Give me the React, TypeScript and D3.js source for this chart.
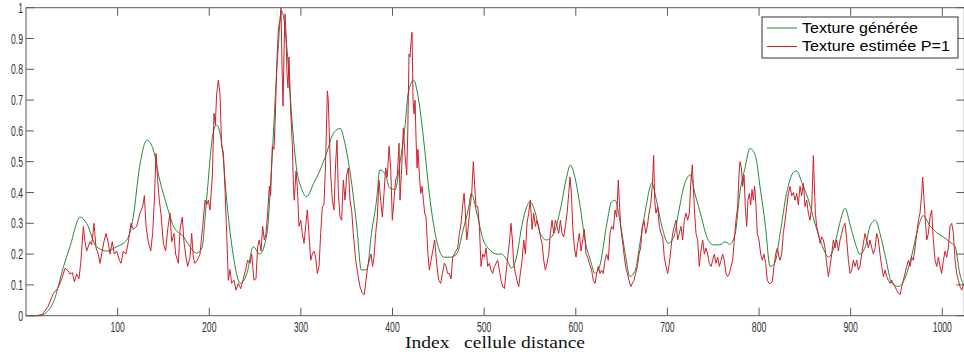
import React from "react";
import * as d3 from "d3";

// ---- data ----
const xTicks = [100, 200, 300, 400, 500, 600, 700, 800, 900, 1000];
const yTicks = [0, 0.1, 0.2, 0.3, 0.4, 0.5, 0.6, 0.7, 0.8, 0.9, 1];
const yTickLabels = ["0", "0.1", "0.2", "0.3", "0.4", "0.5", "0.6", "0.7", "0.8", "0.9", "1"];
const seriesNames = ["Texture générée", "Texture estimée P=1"];
const xLabel = "Index   cellule distance";

const generated: [number, number][] = [
  [0,0],[15,0],[22,0.01],[30,0.045],[41,0.16],[48,0.224],[59,0.32],[66,0.30],[77,0.224],[88,0.21],[99,0.224],[110,0.246],[117,0.32],[124,0.484],[132,0.57],[139,0.538],[146,0.44],[154,0.354],[161,0.29],[172,0.256],[179,0.224],[186,0.203],[192,0.22],[197,0.375],[204,0.59],[208,0.62],[214,0.55],[219,0.375],[226,0.2],[234,0.105],[241,0.137],[248,0.224],[255,0.2],[263,0.267],[268,0.484],[274,0.81],[279,0.99],[285,0.86],[290,0.646],[295,0.484],[301,0.41],[306,0.386],[314,0.43],[321,0.473],[328,0.527],[335,0.59],[343,0.608],[348,0.56],[354,0.46],[361,0.29],[366,0.148],[372,0.15],[377,0.267],[383,0.386],[386,0.473],[392,0.46],[397,0.414],[403,0.41],[408,0.495],[414,0.625],[417,0.72],[423,0.765],[428,0.71],[434,0.57],[441,0.375],[448,0.246],[456,0.19],[463,0.19],[470,0.2],[477,0.278],[483,0.35],[486,0.397],[492,0.333],[499,0.246],[506,0.214],[514,0.2],[519,0.2],[525,0.18],[530,0.154],[536,0.2],[541,0.29],[546,0.35],[550,0.37],[556,0.333],[561,0.267],[568,0.246],[576,0.267],[583,0.343],[590,0.45],[594,0.489],[599,0.45],[605,0.35],[610,0.246],[616,0.18],[621,0.137],[626,0.16],[634,0.30],[639,0.37],[643,0.375],[648,0.31],[654,0.2],[659,0.127],[665,0.148],[670,0.235],[676,0.343],[683,0.43],[688,0.375],[694,0.29],[701,0.235],[707,0.256],[712,0.333],[719,0.43],[725,0.457],[730,0.397],[736,0.333],[743,0.256],[750,0.23],[757,0.23],[763,0.24],[768,0.232],[774,0.267],[779,0.397],[785,0.484],[790,0.543],[796,0.52],[801,0.42],[807,0.29],[812,0.16],[817,0.17],[823,0.267],[830,0.397],[838,0.467],[841,0.47],[847,0.43],[854,0.375],[861,0.30],[868,0.235],[876,0.19],[883,0.235],[888,0.30],[894,0.349],[899,0.30],[905,0.235],[910,0.2],[916,0.224],[921,0.29],[927,0.31],[932,0.267],[938,0.19],[945,0.105],[952,0.095],[959,0.12],[967,0.2],[974,0.29],[979,0.325],[987,0.29],[994,0.27],[1001,0.256],[1008,0.24],[1014,0.224],[1019,0.137],[1024,0.095]
];

const estimated: [number, number][] = [
  [0,0],[12,0],[18,0.005],[24,0.03],[30,0.073],[35,0.09],[39,0.12],[42.6,0.154],[46.2,0.145],[48,0.135],[50.6,0.14],[52.8,0.11],[55.3,0.135],[57.8,0.12],[59.7,0.17],[62.6,0.29],[64.4,0.24],[66.2,0.21],[69.8,0.24],[71.7,0.23],[74.2,0.30],[76.4,0.22],[79,0.2],[80.8,0.17],[82.6,0.2],[85.1,0.24],[87.3,0.267],[89.9,0.235],[91.7,0.2],[94.2,0.24],[96.4,0.2],[99,0.21],[101.9,0.18],[103.7,0.17],[106.2,0.21],[109.1,0.2],[111.7,0.24],[114.6,0.30],[117.1,0.28],[120.8,0.29],[124.4,0.333],[127.3,0.354],[129.2,0.39],[131,0.29],[133.5,0.24],[136.1,0.21],[138.2,0.267],[140.1,0.375],[141.9,0.527],[143.7,0.44],[145.5,0.375],[147.3,0.33],[149.9,0.235],[152.4,0.21],[154.6,0.28],[157.2,0.333],[159,0.24],[161.5,0.267],[163.3,0.2],[166.3,0.17],[168.1,0.28],[170.6,0.32],[172.4,0.24],[174.6,0.19],[176.4,0.16],[179,0.19],[180.8,0.267],[182.6,0.19],[184.4,0.17],[187,0.18],[189.9,0.2],[192.8,0.29],[195.4,0.375],[197.2,0.36],[199,0.375],[200.8,0.343],[203.4,0.457],[205.2,0.657],[206.6,0.62],[208.1,0.72],[209.9,0.765],[211.7,0.72],[213.5,0.55],[215.4,0.53],[217.2,0.41],[219,0.267],[220.8,0.115],[222.6,0.15],[224.4,0.105],[227,0.115],[229.2,0.083],[231.7,0.105],[234.3,0.088],[237.2,0.12],[239.7,0.15],[241.9,0.18],[244.5,0.17],[246.3,0.2],[248.8,0.115],[251,0.12],[252.8,0.224],[254.6,0.246],[256.5,0.21],[258.3,0.29],[260.1,0.246],[261.9,0.267],[263.7,0.333],[265.6,0.42],[267,0.39],[268.8,0.55],[270.6,0.54],[272.1,0.645],[273.6,0.81],[275.4,0.93],[277.2,0.96],[278.3,1.0],[279.4,0.81],[280.5,0.68],[281.6,0.86],[282.7,0.98],[283.7,0.92],[284.8,0.79],[285.9,0.74],[287,0.84],[288.8,0.67],[290.7,0.55],[291.8,0.42],[292.8,0.375],[294.7,0.47],[296.1,0.42],[297.9,0.29],[299.8,0.31],[301.6,0.267],[303.4,0.235],[305.2,0.29],[307,0.343],[308.8,0.267],[310.7,0.18],[312.5,0.2],[314.3,0.21],[316.1,0.19],[317.9,0.137],[319.8,0.16],[321.6,0.267],[323.4,0.354],[325.2,0.36],[327,0.5],[328.9,0.73],[329.9,0.70],[331,0.59],[332.5,0.46],[334.3,0.375],[336.1,0.343],[338,0.50],[339.4,0.57],[340.9,0.397],[342.7,0.32],[344.5,0.31],[346.3,0.44],[348.1,0.375],[350,0.457],[351.8,0.48],[353.6,0.375],[355.4,0.343],[357.2,0.267],[359.8,0.18],[362,0.137],[364.5,0.094],[367.1,0.073],[369.2,0.068],[371,0.115],[372.9,0.16],[374.7,0.18],[376.5,0.2],[378.3,0.16],[379.8,0.19],[381.6,0.267],[383.4,0.32],[385.2,0.44],[387.1,0.375],[388.9,0.32],[390.7,0.397],[392.5,0.48],[394.3,0.45],[396.2,0.55],[398,0.48],[399.8,0.31],[401.6,0.375],[403.4,0.44],[405.3,0.457],[407.1,0.56],[408.2,0.375],[410,0.48],[411.8,0.61],[413.7,0.52],[415.5,0.457],[416.6,0.59],[418,0.85],[419.1,0.84],[420.2,0.89],[421.3,0.92],[422.4,0.70],[423.5,0.655],[424.6,0.70],[425.7,0.57],[426.8,0.48],[427.8,0.54],[429.3,0.457],[430.8,0.397],[432.2,0.42],[433.7,0.375],[435.1,0.333],[436.6,0.32],[438.4,0.21],[440.2,0.148],[442,0.18],[443.9,0.21],[446,0.246],[448.2,0.17],[450.4,0.115],[452.6,0.105],[454.4,0.137],[456.6,0.17],[458.4,0.16],[460.2,0.137],[462,0.137],[463.9,0.12],[465.7,0.19],[467.5,0.2],[469.3,0.21],[471.1,0.22],[473,0.267],[474.8,0.30],[476.6,0.36],[478.1,0.397],[479.5,0.333],[481,0.246],[482.8,0.29],[484.6,0.354],[486.4,0.397],[488.2,0.5],[489.7,0.42],[491.1,0.354],[493,0.354],[494.8,0.29],[496.6,0.16],[498.4,0.2],[500.2,0.19],[502.1,0.22],[503.9,0.16],[505.7,0.17],[507.5,0.148],[509.3,0.137],[511.2,0.16],[513,0.17],[514.8,0.18],[516.6,0.148],[518.4,0.115],[520.3,0.094],[522.1,0.088],[523.9,0.137],[525.7,0.19],[527.5,0.235],[529.3,0.30],[530.8,0.246],[532.3,0.17],[534.1,0.137],[535.9,0.115],[537.7,0.094],[539.5,0.137],[541.4,0.18],[543.2,0.246],[545,0.2],[546.8,0.30],[548.6,0.333],[550.4,0.375],[552.3,0.28],[554.1,0.333],[555.9,0.29],[557.7,0.31],[559.5,0.29],[561.4,0.256],[563.2,0.235],[565,0.18],[566.8,0.148],[568.6,0.17],[570.5,0.2],[572.3,0.267],[574.1,0.31],[575.9,0.267],[577.7,0.31],[579.6,0.29],[581.4,0.267],[583.2,0.31],[585,0.267],[586.8,0.256],[588.6,0.29],[590.5,0.333],[592.3,0.397],[593.7,0.45],[595.2,0.397],[596.6,0.29],[598.5,0.22],[600.3,0.19],[602.1,0.235],[603.9,0.267],[605.7,0.21],[607.6,0.246],[609.4,0.28],[611.2,0.2],[613,0.19],[614.8,0.17],[617.3,0.148],[619.1,0.115],[621,0.105],[622.8,0.137],[624.6,0.16],[626.4,0.137],[628.2,0.148],[630,0.137],[631.9,0.18],[633.7,0.2],[635.5,0.18],[637.3,0.267],[639.1,0.29],[641,0.28],[642.8,0.343],[644.6,0.32],[646.4,0.44],[647.5,0.375],[649,0.29],[650.8,0.246],[652.6,0.2],[654.4,0.16],[656.2,0.137],[658.1,0.115],[659.9,0.094],[661.7,0.105],[663.5,0.115],[665.3,0.137],[667.2,0.16],[669,0.2],[670.8,0.22],[672.6,0.29],[674.4,0.31],[676.3,0.267],[678.1,0.29],[679.9,0.333],[681.7,0.36],[683.5,0.42],[685,0.52],[686.1,0.375],[687.5,0.333],[689.4,0.354],[691.2,0.29],[693,0.267],[694.8,0.256],[696.6,0.19],[698.4,0.16],[700.3,0.137],[702.1,0.17],[703.9,0.22],[705.7,0.267],[707.5,0.29],[709.4,0.31],[711.2,0.246],[713,0.267],[714.8,0.29],[716.6,0.246],[718.5,0.31],[720.3,0.333],[722.1,0.31],[723.9,0.333],[725.7,0.44],[727.2,0.49],[728.3,0.42],[729.7,0.333],[731.2,0.267],[733,0.246],[734.8,0.16],[736.6,0.21],[738.5,0.246],[740.3,0.2],[742.1,0.22],[743.9,0.2],[745.7,0.17],[747.6,0.16],[749.4,0.18],[751.2,0.2],[753,0.17],[754.8,0.19],[756.7,0.16],[758.5,0.18],[760.3,0.2],[762.1,0.18],[763.9,0.137],[765.7,0.127],[767.6,0.137],[769.4,0.16],[771.2,0.18],[773,0.246],[774.8,0.31],[776.7,0.354],[778.1,0.457],[779.2,0.5],[780.7,0.48],[782.1,0.42],[783.6,0.457],[785,0.354],[786.5,0.29],[787.9,0.375],[789.4,0.397],[790.9,0.36],[792.3,0.41],[793.8,0.375],[795.2,0.42],[796.7,0.354],[798.1,0.267],[799.9,0.246],[801.8,0.2],[803.6,0.18],[805.4,0.2],[807.2,0.17],[809,0.115],[810.9,0.105],[812.7,0.105],[814.5,0.11],[816.3,0.16],[818.1,0.2],[820,0.22],[821.8,0.19],[822.9,0.18],[824.7,0.2],[826.5,0.267],[828.4,0.31],[830.2,0.354],[832,0.397],[833.8,0.42],[835.6,0.39],[837.5,0.40],[839.3,0.375],[841.1,0.397],[842.9,0.36],[844.7,0.42],[846.5,0.39],[848.4,0.43],[850.2,0.354],[852,0.375],[853.8,0.333],[855.6,0.31],[857.5,0.354],[859.3,0.52],[860.4,0.42],[861.5,0.333],[862.9,0.29],[864.7,0.267],[866.6,0.235],[868.4,0.256],[870.2,0.246],[872,0.22],[873.8,0.17],[875.7,0.127],[877.5,0.16],[879.3,0.2],[881.1,0.246],[882.9,0.22],[884.7,0.246],[886.6,0.21],[888.4,0.246],[890.2,0.267],[892,0.29],[893.8,0.30],[895.7,0.246],[897.5,0.18],[899.3,0.137],[901.1,0.148],[902.9,0.18],[904.8,0.16],[906.6,0.18],[908.4,0.148],[910.2,0.16],[912,0.2],[913.9,0.235],[915.7,0.267],[917.5,0.246],[919.3,0.22],[921.1,0.246],[923,0.22],[924.8,0.2],[926.6,0.22],[928.4,0.267],[930.2,0.246],[932,0.2],[933.9,0.16],[935.7,0.127],[937.5,0.148],[939.3,0.127],[941.1,0.115],[943,0.105],[944.8,0.115],[946.6,0.105],[948.4,0.094],[950.2,0.083],[952.1,0.073],[953.9,0.068],[955.7,0.094],[957.5,0.115],[959.3,0.137],[961.1,0.16],[963,0.18],[964.8,0.16],[966.6,0.19],[968.4,0.18],[970.2,0.22],[972.1,0.267],[973.9,0.31],[975.7,0.333],[977.5,0.397],[978.6,0.45],[980.1,0.375],[981.5,0.31],[983,0.246],[984.8,0.267],[986.6,0.32],[988.4,0.343],[990.2,0.246],[992.1,0.18],[993.9,0.16],[995.7,0.19],[997.5,0.16],[999.3,0.137],[1001.2,0.18],[1003,0.21],[1004.8,0.19],[1006.6,0.22],[1008.4,0.29],[1010.3,0.30],[1012.1,0.267],[1013.9,0.18],[1015.7,0.137],[1017.5,0.115],[1019.3,0.094],[1021.2,0.083],[1023.7,0.105]
];

const W = 964;
const H = 359;
const plot = { left: 26, right: 964.3, top: 7.7, bottom: 315.7 };
const GREEN = "#25883a";
const RED = "#d11f2b";
const AXIS = "#5a5a5a";
const TICKFONT = "'Liberation Sans', Arial, sans-serif";
const SQ = 0.62; // horizontal squeeze of tick labels

export default function App() {
  const x = d3.scaleLinear().domain([0, 1024]).range([plot.left, plot.right]);
  const y = d3.scaleLinear().domain([0, 1]).range([plot.bottom, plot.top]);
  const greenLine = d3.line<[number, number]>().x((d) => x(d[0])).y((d) => y(d[1])).curve(d3.curveMonotoneX);
  const redLine = d3.line<[number, number]>().x((d) => x(d[0])).y((d) => y(d[1]));
  const tl = 8;

  return (
    <div style={{ position: "fixed", left: 0, top: 0, width: W, height: H, background: "#fff" }}>
      <svg width={W} height={H} style={{ display: "block" }}>
        <rect x={0} y={0} width={W} height={H} fill="#fff" />
        <path d={greenLine(generated) || ""} fill="none" stroke={GREEN} strokeWidth={1} />
        <path d={redLine(estimated) || ""} fill="none" stroke={RED} strokeWidth={1} strokeLinejoin="round" />

        {/* box */}
        <rect x={plot.left} y={plot.top} width={plot.right - plot.left} height={plot.bottom - plot.top} fill="none" stroke={AXIS} strokeWidth={1} />

        {/* x ticks */}
        {xTicks.map((t) => (
          <g key={"xt" + t}>
            <line x1={x(t)} x2={x(t)} y1={plot.bottom} y2={plot.bottom - tl} stroke={AXIS} />
            <line x1={x(t)} x2={x(t)} y1={plot.top} y2={plot.top + tl} stroke={AXIS} />
            <g transform={`translate(${x(t)},332) scale(${SQ},1)`}>
              <text x={0} y={0} textAnchor="middle" fontFamily={TICKFONT} fontSize={14} fill="#333">{t}</text>
            </g>
          </g>
        ))}
        {/* y ticks */}
        {yTicks.map((t, i) => (
          <g key={"yt" + t}>
            <line x1={plot.left} x2={plot.left + tl} y1={y(t)} y2={y(t)} stroke={AXIS} />
            <line x1={plot.right} x2={plot.right - tl} y1={y(t)} y2={y(t)} stroke={AXIS} />
            <g transform={`translate(23,${y(t) + 5}) scale(${SQ},1)`}>
              <text x={0} y={0} textAnchor="end" fontFamily={TICKFONT} fontSize={14} fill="#333">{yTickLabels[i]}</text>
            </g>
          </g>
        ))}

        {/* x label */}
        <text x={405} y={347.5} textLength={180} lengthAdjust="spacingAndGlyphs" fontFamily="'Liberation Serif', 'Times New Roman', serif" fontSize={16} fill="#111" style={{ whiteSpace: "pre" }}>{xLabel}</text>

        {/* legend */}
        <g>
          <rect x={762} y={17} width={196} height={41} fill="#fff" stroke="#333" strokeWidth={1} />
          <line x1={767} x2={797} y1={28} y2={28} stroke={GREEN} />
          <text x={802} y={32.5} textLength={116} lengthAdjust="spacingAndGlyphs" fontFamily="'Liberation Sans', Arial, sans-serif" fontSize={15} fill="#000">{seriesNames[0]}</text>
          <line x1={767} x2={797} y1={46.5} y2={46.5} stroke={RED} />
          <text x={802} y={51} textLength={148} lengthAdjust="spacingAndGlyphs" fontFamily="'Liberation Sans', Arial, sans-serif" fontSize={15} fill="#000">{seriesNames[1]}</text>
        </g>
      </svg>
    </div>
  );
}
